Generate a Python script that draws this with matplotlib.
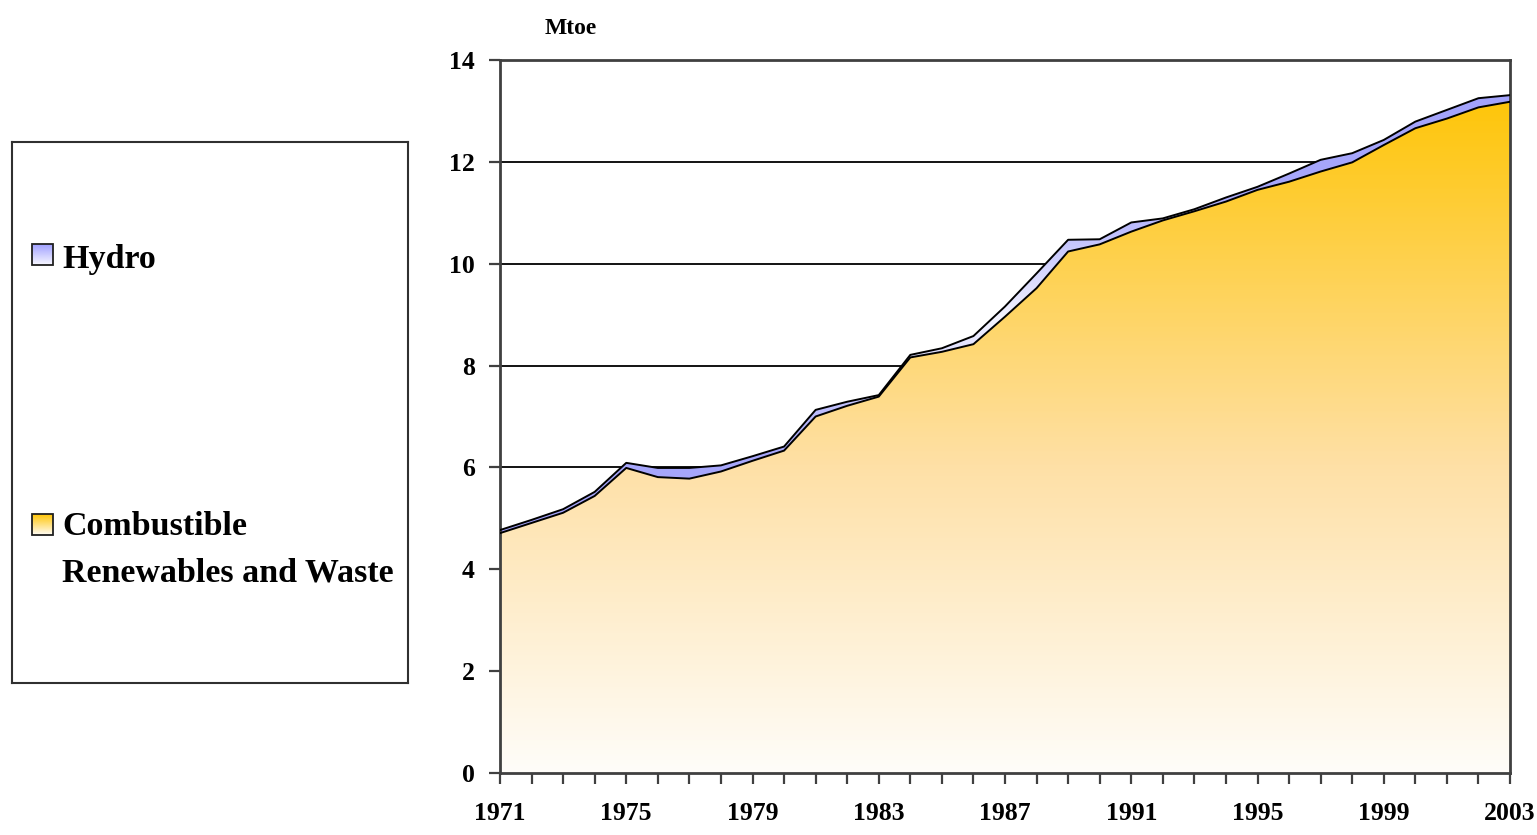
import numpy as np
import matplotlib
matplotlib.use("Agg")
import matplotlib.pyplot as plt
from matplotlib.colors import LinearSegmentedColormap
from matplotlib.patches import Rectangle

plt.rcParams["font.family"] = ["Liberation Serif", "DejaVu Serif"]
plt.rcParams["font.weight"] = "bold"

#%% data (Mtoe)
years = list(range(1971, 2004))
combustible = [4.71, 4.91, 5.11, 5.44, 5.99, 5.81, 5.78, 5.92, 6.13, 6.33,
               7.00, 7.21, 7.39, 8.16, 8.27, 8.42, 8.96, 9.52, 10.24, 10.38,
               10.63, 10.85, 11.03, 11.22, 11.45, 11.61, 11.81, 11.99, 12.33, 12.66,
               12.85, 13.07, 13.18]
hydro = [0.06, 0.06, 0.07, 0.08, 0.10, 0.18, 0.21, 0.12, 0.09, 0.08,
         0.13, 0.08, 0.03, 0.05, 0.07, 0.16, 0.20, 0.29, 0.23, 0.10,
         0.18, 0.04, 0.04, 0.08, 0.06, 0.16, 0.23, 0.18, 0.10, 0.13,
         0.17, 0.18, 0.13]
legend_labels = [["Hydro"], ["Combustible", "Renewables and Waste"]]

x = np.array(years)
comb = np.array(combustible)
total = comb + np.array(hydro)

fig = plt.figure(figsize=(15.37, 8.35), dpi=100)
ax = fig.add_axes([500 / 1537, 1 - 773 / 835, 1010 / 1537, 713 / 835])

grad = np.linspace(0, 1, 400).reshape(-1, 1)

# combustible area with vertical gradient
cmap_c = LinearSegmentedColormap.from_list(
    "comb", [(0, "#fffdf9"), (0.45, "#fee0a6"), (1, "#ffc506")])
poly_c = ax.fill_between(x, 0, comb, facecolor="none", edgecolor="none")
im_c = ax.imshow(grad, cmap=cmap_c, aspect="auto", origin="lower",
                 extent=[x[0], x[-1], 0, 13.4], zorder=2, vmin=0, vmax=1)
im_c.set_clip_path(poly_c.get_paths()[0], transform=ax.transData)

# hydro band: light in the middle, blue at both ends
cmap_h = LinearSegmentedColormap.from_list(
    "hyd", [(0, "#a3a3fb"), (0.22, "#a8a8fb"), (0.5, "#f3f3ff"),
            (0.78, "#a8a8fb"), (1, "#a3a3fb")])
poly_h = ax.fill_between(x, comb, total, facecolor="none", edgecolor="none")
im_h = ax.imshow(grad, cmap=cmap_h, aspect="auto", origin="lower",
                 extent=[x[0], x[-1], 4.4, 13.4], zorder=2, vmin=0, vmax=1)
im_h.set_clip_path(poly_h.get_paths()[0], transform=ax.transData)

ax.plot(x, comb, color="black", lw=1.4, zorder=3)
ax.plot(x, total, color="black", lw=1.4, zorder=3)

ax.set_xlim(x[0], x[-1])
ax.set_ylim(0, 14)
ax.set_yticks(range(0, 15, 2))
ax.set_xticks(years)
ax.set_xticklabels([str(y) if (y - 1971) % 4 == 0 else "" for y in years])
ax.yaxis.grid(True, color="black", lw=1.3, zorder=0)
ax.set_axisbelow(True)
for s in ax.spines.values():
    s.set_color("#404040")
    s.set_linewidth(2)
ax.tick_params(axis="both", length=8, width=1.6, color="#404040", labelsize=18.5)
ax.tick_params(axis="x", pad=13)
ax.tick_params(axis="y", pad=10)

fig.text(545 / 1537, 1 - 28 / 835, "Mtoe", fontsize=17, va="center", ha="left")

# legend box
lg = fig.add_axes([12 / 1537, 1 - 683 / 835, 396 / 1537, 541 / 835])
lg.set_xticks([])
lg.set_yticks([])
for s in lg.spines.values():
    s.set_color("#303030")
    s.set_linewidth(1.5)

sw_cmaps = [LinearSegmentedColormap.from_list("h", ["#f8f8ff", "#a0a0ff"]),
            LinearSegmentedColormap.from_list("c", ["#fffdf8", "#ffc506"])]
sw_y = [244, 514]
baselines = [[268], [535, 581]]
for lines, cm, y0, bls in zip(legend_labels, sw_cmaps, sw_y, baselines):
    lg.imshow(grad, cmap=cm, aspect="auto", origin="lower",
              extent=[32, 53, y0 + 21, y0], zorder=1)
    lg.add_patch(Rectangle((32, y0), 21, 21, fill=False, ec="#202020", lw=1.3, zorder=2))
    for txt, bl in zip(lines, bls):
        lg.text(62, bl, txt, fontsize=24.5, va="baseline", ha="left")
lg.set_xlim(12, 408)
lg.set_ylim(683, 142)

fig.savefig("out.png", dpi=100)
